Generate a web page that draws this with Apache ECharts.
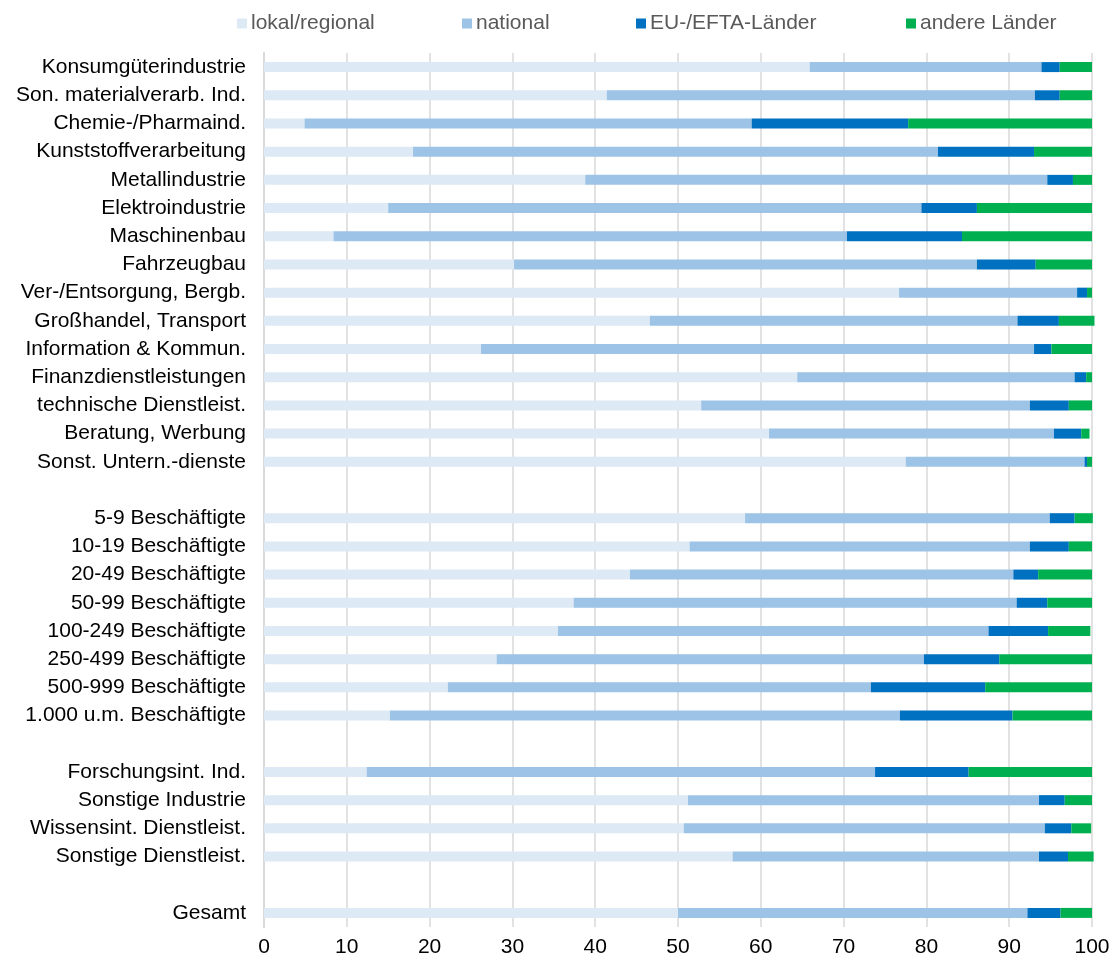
<!DOCTYPE html>
<html>
<head>
<meta charset="utf-8">
<script src="https://cdn.jsdelivr.net/npm/echarts@6/dist/echarts.min.js"></script>
<style>
html,body{margin:0;padding:0;background:#fff;}
#c{width:1115px;height:960px;}
</style>
</head>
<body>
<div id="c"></div>
<script>
const categories = [
  'Konsumgüterindustrie','Son. materialverarb. Ind.','Chemie-/Pharmaind.','Kunststoffverarbeitung',
  'Metallindustrie','Elektroindustrie','Maschinenbau','Fahrzeugbau','Ver-/Entsorgung, Bergb.',
  'Großhandel, Transport','Information & Kommun.','Finanzdienstleistungen','technische Dienstleist.',
  'Beratung, Werbung','Sonst. Untern.-dienste',' ',
  '5-9 Beschäftigte','10-19 Beschäftigte','20-49 Beschäftigte','50-99 Beschäftigte',
  '100-249 Beschäftigte','250-499 Beschäftigte','500-999 Beschäftigte','1.000 u.m. Beschäftigte','  ',
  'Forschungsint. Ind.','Sonstige Industrie','Wissensint. Dienstleist.','Sonstige Dienstleist.','   ',
  'Gesamt'
];
const seriesNames = ['lokal/regional','national','EU-/EFTA-Länder','andere Länder'];
const lokal   = [65.9,41.4, 4.9,18.0,38.8,15.0, 8.4,30.2,76.7,46.6,26.2,64.4,52.8,61.0,77.5,null,
                 58.1,51.4,44.2,37.4,35.5,28.1,22.2,15.2,null, 12.4,51.2,50.7,56.6,null, 50.0];
const national= [28.0,51.7,54.0,63.4,55.8,64.4,62.0,55.9,21.5,44.4,66.8,33.5,39.7,34.4,21.6,null,
                 36.8,41.1,46.3,53.5,52.0,51.6,51.1,61.6,null, 61.4,42.4,43.6,37.0,null, 42.2];
const eu      = [ 2.2, 3.0,18.9,11.6, 3.1, 6.7,13.9, 7.1, 1.2, 5.0, 2.1, 1.4, 4.7, 3.3, 0.3,null,
                  3.0, 4.7, 3.0, 3.7, 7.2, 9.1,13.8,13.6,null, 11.3, 3.1, 3.2, 3.5,null,  4.0];
const andere  = [ 3.9, 3.9,22.2, 7.0, 2.3,13.9,15.7, 6.8, 0.6, 4.3, 4.9, 0.7, 2.8, 1.0, 0.6,null,
                  2.2, 2.8, 6.5, 5.4, 5.1,11.2,12.9, 9.6,null, 14.9, 3.3, 2.4, 3.1,null,  3.8];
const xTicks = [0,10,20,30,40,50,60,70,80,90,100];
const colors = ['#DDEAF6','#9DC3E6','#0070C0','#00B050'];

const FONT = '"Liberation Sans", Arial, sans-serif';
const chart = echarts.init(document.getElementById('c'), null, {renderer:'canvas'});
const values = [lokal, national, eu, andere];
const legendLefts = [232, 457, 631, 901];

chart.setOption({
  animation:false,
  backgroundColor:'#fff',
  legend: seriesNames.map((n,i)=>({
    data:[n], left:legendLefts[i], top:8, itemWidth:10, itemHeight:10, itemGap:0,
    icon:'rect', textStyle:{fontFamily:FONT,fontSize:21,color:'#595959',padding:[0,0,0,-1]}
  })),
  grid:{left:264,right:23,top:53,bottom:33,containLabel:false,outerBoundsMode:'none'},
  xAxis:{
    type:'value', min:xTicks[0], max:xTicks[xTicks.length-1], interval:10,
    axisLine:{show:false}, axisTick:{show:false},
    splitLine:{show:true,lineStyle:{color:'#D9D9D9',width:1.5}},
    axisLabel:{fontFamily:FONT,fontSize:21,color:'#000',margin:10}
  },
  yAxis:{
    type:'category', data:categories, inverse:true,
    axisLine:{show:true,lineStyle:{color:'#D9D9D9',width:2}},
    axisTick:{show:false},
    axisLabel:{fontFamily:FONT,fontSize:21,color:'#000',margin:18,interval:0}
  },
  series: seriesNames.map((n,i)=>({
    name:n, type:'bar', stack:'total', barWidth:10, clip:false,
    itemStyle:{color:colors[i]},
    emphasis:{disabled:true},
    data:values[i]
  }))
});
</script>
</body>
</html>
